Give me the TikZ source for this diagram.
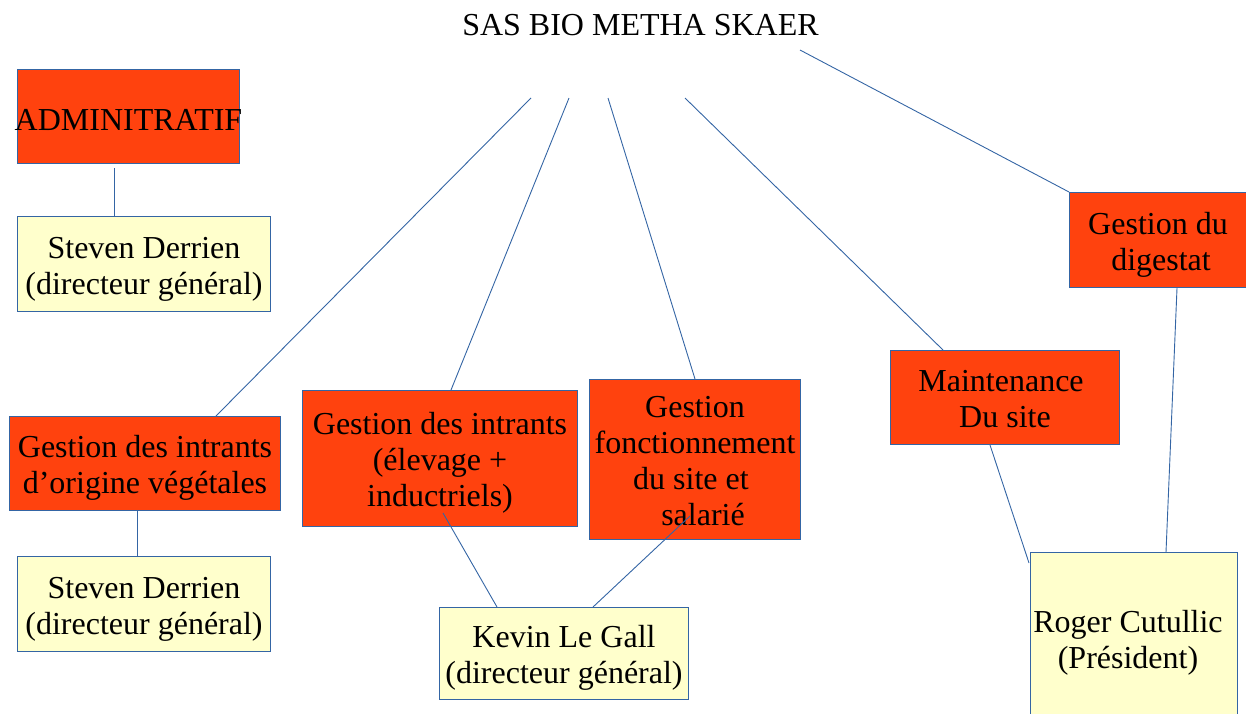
\documentclass[tikz,border=0pt]{standalone}
\usepackage{fontspec}
\setmainfont{Liberation Serif}
\usetikzlibrary{calc}
\definecolor{edge}{HTML}{3465A4}
\definecolor{obox}{HTML}{FF420E}
\definecolor{ybox}{HTML}{FFFFCC}
\newcommand{\boxtext}[1]{\raisebox{-5pt}[\height][\depth]{\begin{tabular}{@{}c@{}}#1\end{tabular}}}
\tikzset{
  base/.style={draw=edge, line width=1pt, inner sep=0pt, anchor=north west, font=\fontsize{32}{36}\selectfont},
  orangebox/.style={base, fill=obox},
  yellowbox/.style={base, fill=ybox},
  link/.style={draw=edge, line width=0.9pt},
  titlestyle/.style={font=\fontsize{32}{36}\selectfont, inner sep=0pt}
}
\begin{document}
\begin{tikzpicture}[x=1pt,y=-1pt]
\useasboundingbox (0,0) rectangle (1246,713);
\clip (0,0) rectangle (1246,713);

\node[titlestyle] (title) at (640.5,25.5) {SAS BIO METHA SKAER};
\coordinate (t1) at (531,98);
\coordinate (t2) at (569,98);
\coordinate (t3) at (608,98);
\coordinate (t4) at (685,98);
\coordinate (t5) at (800,50);

\node[orangebox, minimum width=222pt, minimum height=94pt] (adm) at (17,69) {\makebox[0pt]{\raisebox{-3pt}[\height][\depth]{ADMINITRATIF}}};
\node[yellowbox, minimum width=253pt, minimum height=95pt] (sd1) at (17,216) {\boxtext{Steven Derrien\\(directeur général)}};
\node[orangebox, minimum width=271pt, minimum height=94pt] (veg) at (9,416) {\boxtext{Gestion des intrants\\d’origine végétales}};
\node[yellowbox, minimum width=253pt, minimum height=95pt] (sd2) at (17,556) {\boxtext{Steven Derrien\\(directeur général)}};
\node[orangebox, minimum width=275pt, minimum height=136pt] (elev) at (302,390) {\boxtext{Gestion des intrants\\(élevage +\\inductriels)}};
\node[orangebox, minimum width=211pt, minimum height=160pt] (fonc) at (589,379) {\boxtext{Gestion\\fonctionnement\\\hspace*{-8pt}du site et\\\hspace*{16pt}salarié}};
\node[yellowbox, minimum width=249pt, minimum height=92pt] (kev) at (439,607) {\boxtext{Kevin Le Gall\\(directeur général)}};
\node[orangebox, minimum width=229pt, minimum height=94pt] (maint) at (890,350) {\boxtext{\hspace*{-8pt}Maintenance\\Du site}};
\node[orangebox, minimum width=177pt, minimum height=95pt] (dig) at (1069,192) {\boxtext{Gestion du\\\hspace*{6pt}digestat}};
\node[yellowbox, minimum width=207pt, minimum height=172pt] (rog) at (1030,552) {\boxtext{Roger Cutullic\\(Président)}\hspace*{12pt}};

\draw[link] ($(adm.south west)+(97,4)$) -- ($(sd1.north west)+(97,0)$);
\draw[link] ($(veg.south west)+(128,0)$) -- ($(sd2.north west)+(120,0)$);
\draw[link] (t1) -- ($(veg.north west)+(207,0)$);
\draw[link] (t2) -- ($(elev.north west)+(149,0)$);
\draw[link] (t3) -- ($(fonc.north west)+(106,0)$);
\draw[link] (t4) -- ($(maint.north west)+(53,0)$);
\draw[link] (t5) -- (dig.north west);
\draw[link] ($(elev.south west)+(141,-14)$) -- ($(kev.north west)+(58,0)$);
\draw[link] ($(fonc.south west)+(101,-24)$) -- ($(kev.north west)+(154,0)$);
\draw[link] ($(maint.south west)+(100,0)$) -- ($(rog.north west)+(-1,11)$);
\draw[link] ($(dig.south west)+(108,0)$) -- ($(rog.north west)+(136,0)$);
\end{tikzpicture}
\end{document}
